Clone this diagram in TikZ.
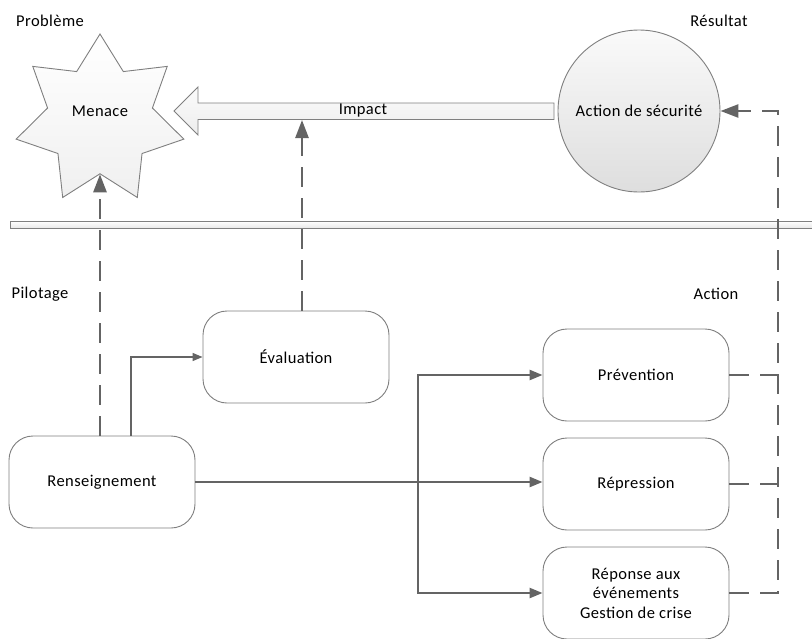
\documentclass[tikz,border=0pt]{standalone}
\usepackage{fontspec}
\setmainfont[LetterSpace=2.5]{Carlito}
\usetikzlibrary{shapes.geometric,arrows.meta,calc}
\definecolor{conn}{HTML}{646464}
\definecolor{edge}{HTML}{7F7F7F}
\begin{document}
\begin{tikzpicture}[x=1pt,y=-1pt,
  font=\fontsize{16.5}{19.5}\selectfont,
  box/.style={draw=edge, line width=0.9pt, rounded corners=24pt, fill=white,
    minimum width=186pt, minimum height=92pt, align=center, inner sep=2pt},
  label/.style={inner sep=0pt},
  thinconn/.style={draw=conn, line width=1.3pt, -{Triangle[length=10pt,width=8pt]}},
  thickconn/.style={draw=conn, line width=2.4pt},
  thickarrow/.style={thickconn, -{Triangle[length=13pt,width=10pt]}},
  dashconn/.style={draw=conn, line width=2.6pt, dash pattern=on 20pt off 11pt},
  dasharrow/.style={dashconn, -{Triangle[length=18pt,width=13pt]}}]
\useasboundingbox (0,0) rectangle (812,638);

% separator bar
\path[draw=edge, line width=0.9pt, top color=white, bottom color=gray!18]
  (10,221) rectangle (816,228);

% labels
\node[label] (lprob) at (50,21) {Problème};
\node[label] (lres) at (719,21) {Résultat};
\node[label] (lpil) at (40,294) {Pilotage};
\node[label] (lact) at (716,294) {Action};

% star
\node[star, star points=7, star point ratio=1.6, minimum size=172pt, inner sep=0pt,
  draw=edge, line width=0.9pt, top color=white, bottom color=gray!12] (menace) at (100,120) {};
\node[label] (menacet) at (100,111) {Menace};

% circle
\node[circle, minimum size=162pt, inner sep=0pt, draw=edge, line width=0.9pt,
  top color=gray!4, bottom color=gray!26] (secu) at (639,111) {Action de sécurité};

% impact arrow
\path[draw=edge, line width=0.9pt, top color=gray!3, bottom color=gray!14]
  (554,103) -- (198,103) -- (198,87) -- (174,111) -- (198,135) -- (198,119.5) -- (554,119.5) -- cycle;
\node[label] (impact) at (363,111) {Impact};
\coordinate (impb) at (302,120);

% boxes
\node[box] (eval) at (296,357) {Évaluation};
\node[box] (rens) at (102,482) {Renseignement};
\node[box] (prev) at (636,375) {Prévention};
\node[box] (repr) at (636,484) {Répression};
\node[box] (repo) at (636,593) {Réponse aux\\événements\\Gestion de crise};

% connectors
\draw[dasharrow] (rens.north -| menace.south) -- (menace.south);
\draw[dasharrow] (impb |- eval.north) -- (impb);
\draw[thinconn] ([xshift=29pt]rens.north) |- (eval.west);

\coordinate (bus) at (418,482);
\draw[thickarrow] (rens.east) -- (rens.east -| prev.west);
\draw[thickarrow] (bus) |- (prev.west);
\draw[thickarrow] (bus) |- (repo.west);

\coordinate (dd) at (778,111);
\draw[dashconn] (prev.east) -- (prev.east -| dd);
\draw[dashconn] (repr.east) -- (repr.east -| dd);
\draw[dasharrow] (repo.east) -| (dd) -- (secu.east);
\end{tikzpicture}
\end{document}
